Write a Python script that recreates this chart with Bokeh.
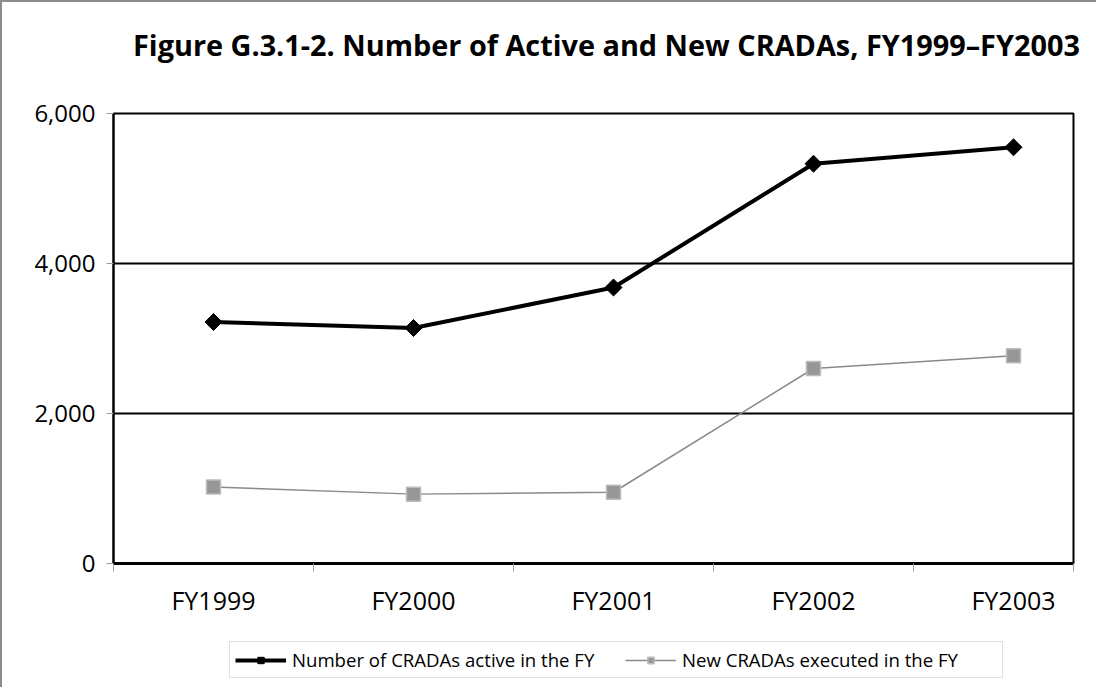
import math
from bokeh.plotting import figure
from bokeh.layouts import column
from bokeh.models import (FixedTicker, NumeralTickFormatter, Legend, LegendItem,
                          ColumnDataSource, Range1d, Div)
from bokeh.embed import file_html
from bokeh.resources import INLINE

# ---- data ----
categories = ["FY1999", "FY2000", "FY2001", "FY2002", "FY2003"]
active = [3220, 3140, 3680, 5330, 5550]
new_cradas = [1020, 925, 950, 2600, 2770]
y_ticks = [0, 2000, 4000, 6000]
title_text = "Figure G.3.1-2. Number of Active and New CRADAs, FY1999\u2013FY2003"
series_names = ["Number of CRADAs active in the FY", "New CRADAs executed in the FY"]

xpos = [i + 0.5 for i in range(len(categories))]
src = ColumnDataSource(dict(x=xpos, cat=categories, active=active, new=new_cradas))

W = 1094
HT, HM, HL = 85, 546, 54

# ---- title strip (HTML text) ----
pt = Div(text=title_text, width=W, height=HT, margin=0,
         styles={"font-family": "'Open Sans'", "font-weight": "bold",
                 "font-size": "28.85px", "line-height": "1.362",
                 "padding-left": "131px", "padding-top": "23px",
                 "color": "black", "white-space": "nowrap",
                 "box-sizing": "border-box", "background": "white"})

# ---- main chart ----
p = figure(width=W, height=HM, output_backend="svg", toolbar_location=None,
           x_range=Range1d(0, 4.8), y_range=Range1d(0, 6000),
           min_border_left=111, min_border_right=23, min_border_top=26,
           min_border_bottom=70)
p.outline_line_color = "black"
p.outline_line_width = 2
p.background_fill_color = "white"
p.border_fill_color = "white"

p.xgrid.grid_line_color = None
p.ygrid.ticker = FixedTicker(ticks=y_ticks)
p.ygrid.grid_line_color = "black"
p.ygrid.grid_line_width = 2

ya = p.yaxis[0]
ya.ticker = FixedTicker(ticks=y_ticks)
ya.formatter = NumeralTickFormatter(format="0,0")
ya.axis_line_color = "black"
ya.axis_line_width = 2
ya.major_tick_line_color = "#a0a0a0"
ya.major_tick_out = 7
ya.major_tick_in = 0
ya.minor_tick_line_color = None
ya.major_label_text_font = "Open Sans"
ya.major_label_text_font_size = "24px"
ya.major_label_text_color = "black"
ya.major_label_standoff = 11

xa = p.xaxis[0]
xa.ticker = FixedTicker(ticks=xpos, minor_ticks=[0, 1, 2, 3, 4, 4.8])
xa.major_label_overrides = {x: c for x, c in zip(xpos, categories)}
xa.axis_line_color = "black"
xa.axis_line_width = 3
xa.major_tick_line_color = None
xa.minor_tick_line_color = "#a0a0a0"
xa.minor_tick_out = 8
xa.minor_tick_in = 0
xa.major_tick_out = 8
xa.major_label_text_font = "Open Sans"
xa.major_label_text_font_size = "25px"
xa.major_label_text_color = "black"
xa.major_label_standoff = 11

ACT = dict(line_color="black", line_width=4)
ACT_M = dict(marker="square", angle=math.pi / 4, size=12, fill_color="black", line_color="black")
NEW = dict(line_color="#8a8a8a", line_width=1.5)
NEW_M = dict(marker="square", size=14, fill_color="#969696", line_color="#bdbdbd", line_width=1.5)

p.line("x", "active", source=src, **ACT)
p.scatter("x", "active", source=src, **ACT_M)
p.line("x", "new", source=src, **NEW)
p.scatter("x", "new", source=src, **NEW_M)

# ---- legend strip (same series, out of its view; only the legend shows) ----
pl = figure(width=W, height=HL, output_backend="svg", toolbar_location=None,
            x_range=Range1d(-10, -9), y_range=Range1d(-10, -9),
            x_axis_location=None, y_axis_location=None, min_border=0)
pl.outline_line_color = None
pl.xgrid.grid_line_color = None
pl.ygrid.grid_line_color = None
pl.border_fill_color = "white"
pl.background_fill_color = "white"
a1 = pl.line("x", "active", source=src, **ACT)
a2 = pl.scatter("x", "active", source=src, **ACT_M)
b1 = pl.line("x", "new", source=src, **NEW)
b2 = pl.scatter("x", "new", source=src, **NEW_M)
legend = Legend(items=[
    LegendItem(label=series_names[0], renderers=[a1, a2]),
    LegendItem(label=series_names[1], renderers=[b1, b2]),
], orientation="horizontal", location=(116, 9))
legend.label_text_font = "Open Sans"
legend.label_text_font_size = "18.6px"
legend.label_text_color = "black"
legend.border_line_color = "#c0c0c0"
legend.border_line_width = 1
legend.glyph_width = 51
legend.glyph_height = 16
legend.label_standoff = 6
legend.label_width = 315
legend.spacing = 18
legend.padding = 5
legend.margin = 0
legend.background_fill_color = "white"
pl.add_layout(legend, "center")

lay = column(pt, p, pl, spacing=0,
             styles={"border-left": "2px solid #8c8c8c", "border-top": "2px solid #8c8c8c"})

open("out.html", "w").write(file_html(lay, INLINE))
